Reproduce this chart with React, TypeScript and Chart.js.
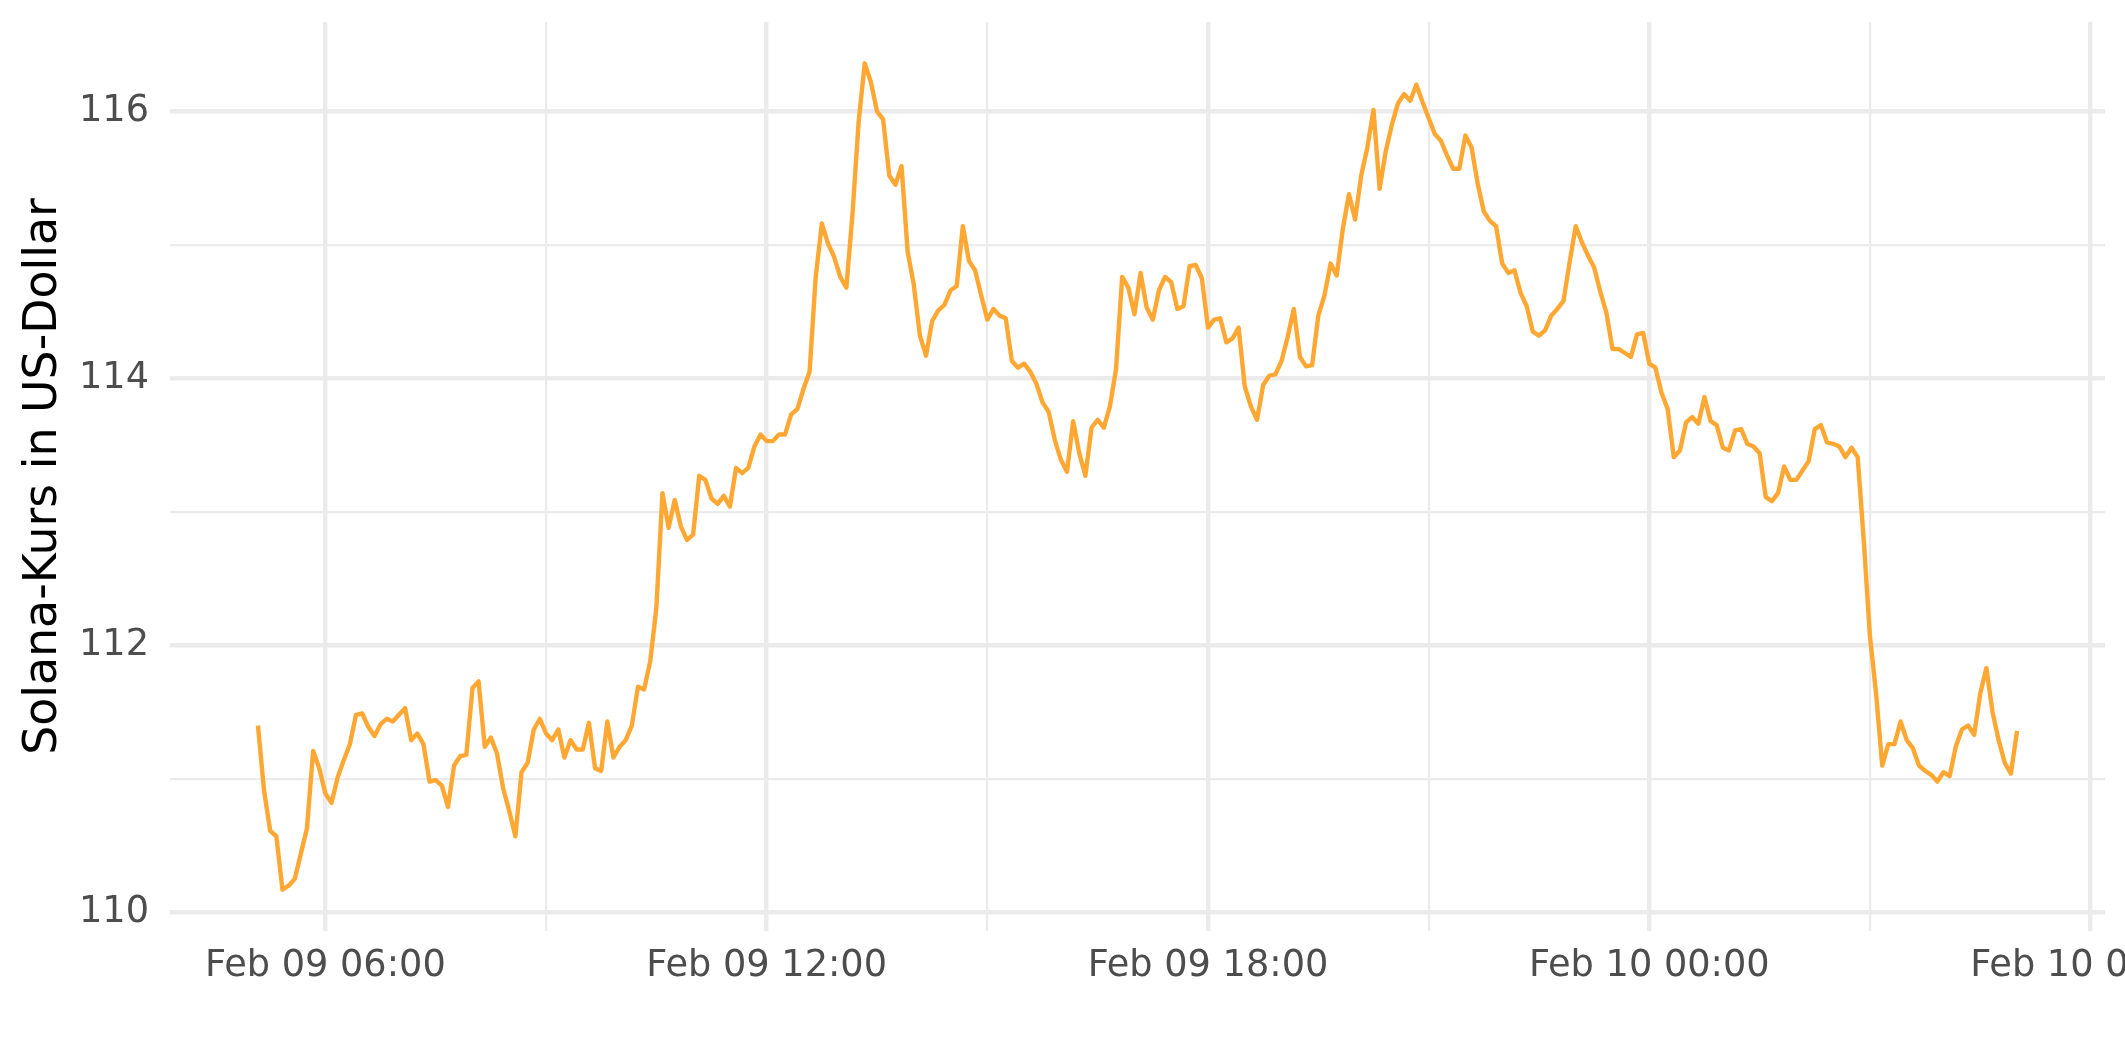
import { useEffect, useRef } from 'react';
import { Chart, registerables } from 'chart.js';

Chart.register(...registerables);

// Solana price, 5-minute samples from Feb 09 05:05 to Feb 10 05:00
const START_MINUTE = 305; // minutes after Feb 09 00:00
const STEP_MINUTES = 5;
const prices: number[] = [
  111.40, 110.91, 110.61, 110.57, 110.17, 110.20, 110.25, 110.44, 110.63, 111.21, 111.08,
  110.89, 110.82, 111.01, 111.14, 111.26, 111.48, 111.49, 111.39, 111.32, 111.41,
  111.45, 111.43, 111.48, 111.53, 111.29, 111.34, 111.26, 110.98, 110.99, 110.95,
  110.79, 111.10, 111.17, 111.18, 111.68, 111.73, 111.24, 111.31, 111.19, 110.93,
  110.76, 110.57, 111.05, 111.12, 111.37, 111.45, 111.34, 111.29, 111.37, 111.16,
  111.29, 111.22, 111.22, 111.42, 111.08, 111.06, 111.43, 111.16, 111.24, 111.29,
  111.40, 111.69, 111.67, 111.88, 112.28, 113.14, 112.88, 113.09, 112.89, 112.79,
  112.83, 113.27, 113.24, 113.10, 113.06, 113.12, 113.04, 113.33, 113.29, 113.33,
  113.49, 113.58, 113.53, 113.53, 113.58, 113.58, 113.73, 113.77, 113.92, 114.05,
  114.76, 115.16, 115.01, 114.91, 114.76, 114.68, 115.23, 115.92, 116.36, 116.22,
  116.00, 115.94, 115.52, 115.45, 115.59, 114.95, 114.70, 114.32, 114.17, 114.43,
  114.51, 114.55, 114.66, 114.69, 115.14, 114.88, 114.81, 114.62, 114.44, 114.52,
  114.47, 114.45, 114.13, 114.08, 114.11, 114.05, 113.96, 113.82, 113.75, 113.54,
  113.39, 113.30, 113.68, 113.44, 113.27, 113.63, 113.69, 113.63, 113.79, 114.07,
  114.76, 114.68, 114.48, 114.79, 114.53, 114.44, 114.66, 114.76, 114.72, 114.52,
  114.54, 114.84, 114.85, 114.75, 114.38, 114.44, 114.45, 114.27, 114.30, 114.38,
  113.94, 113.79, 113.69, 113.95, 114.02, 114.03, 114.13, 114.31, 114.52, 114.16,
  114.09, 114.10, 114.47, 114.62, 114.86, 114.77, 115.12, 115.38, 115.19, 115.52,
  115.73, 116.01, 115.42, 115.70, 115.90, 116.06, 116.13, 116.08, 116.20, 116.07,
  115.95, 115.83, 115.78, 115.67, 115.57, 115.57, 115.82, 115.73, 115.46, 115.25,
  115.18, 115.14, 114.86, 114.79, 114.81, 114.64, 114.54, 114.35, 114.32, 114.36,
  114.47, 114.52, 114.58, 114.87, 115.14, 115.02, 114.92, 114.83, 114.65, 114.49,
  114.22, 114.22, 114.19, 114.16, 114.33, 114.34, 114.11, 114.08, 113.89, 113.77,
  113.41, 113.46, 113.67, 113.71, 113.66, 113.86, 113.68, 113.65, 113.48, 113.46,
  113.61, 113.62, 113.51, 113.49, 113.44, 113.11, 113.08, 113.14, 113.34, 113.24,
  113.24, 113.31, 113.38, 113.62, 113.65, 113.52, 113.51, 113.49, 113.41, 113.48,
  113.41, 112.78, 112.07, 111.64, 111.10, 111.26, 111.26, 111.43, 111.29, 111.23,
  111.10, 111.06, 111.03, 110.98, 111.05, 111.02, 111.24, 111.37, 111.40, 111.33,
  111.64, 111.83, 111.50, 111.29, 111.12, 111.04, 111.36,
];

const xMajorTicks = [360, 720, 1080, 1440, 1800];
const xMajorLabels = ['Feb 09 06:00', 'Feb 09 12:00', 'Feb 09 18:00', 'Feb 10 00:00', 'Feb 10 06:00'];
const xMinorTicks = [540, 900, 1260, 1620];
const yMajorTicks = [110, 112, 114, 116];
const yMinorTicks = [111, 113, 115];

const Y_TITLE = 'Solana-Kurs in US-Dollar';
const LINE_COLOR = '#FFA733';
const GRID_COLOR = '#EBEBEB';
const FONT = 'DejaVu Sans';

export default function App() {
  const ref = useRef<HTMLCanvasElement | null>(null);

  useEffect(() => {
    if (!ref.current) return;
    const points = prices.map((p, i) => ({ x: START_MINUTE + i * STEP_MINUTES, y: p }));
    const xs = points.map((p) => p.x);
    const ys = points.map((p) => p.y);
    const xMin = Math.min(...xs), xMax = Math.max(...xs);
    const yMin = Math.min(...ys), yMax = Math.max(...ys);
    const xPad = 0.05 * (xMax - xMin);
    const yPad = 0.05 * (yMax - yMin);

    const chart = new Chart(ref.current, {
      type: 'line',
      data: {
        datasets: [
          {
            data: points,
            borderColor: LINE_COLOR,
            borderWidth: 4.4,
            pointRadius: 0,
            tension: 0,
            fill: false,
            borderJoinStyle: 'round',
          },
        ],
      },
      options: {
        responsive: false,
        animation: false,
        devicePixelRatio: 1,
        layout: { padding: { left: 0, right: 20, top: 22, bottom: 0 } },
        plugins: { legend: { display: false }, tooltip: { enabled: false } },
        scales: {
          x: {
            type: 'linear',
            min: xMin - xPad,
            max: xMax + xPad,
            afterBuildTicks: (s: any) => {
              s.ticks = [...xMajorTicks, ...xMinorTicks].sort((a, b) => a - b).map((v) => ({ value: v }));
            },
            afterFit: (s: any) => {
              s.height = 131;
              s.paddingLeft = 0;
              s.paddingRight = 0;
            },
            border: { display: false },
            grid: {
              color: GRID_COLOR,
              drawTicks: false,
              lineWidth: (ctx: any) => (xMajorTicks.includes(ctx.tick?.value) ? 4.4 : 2.2),
            },
            ticks: {
              autoSkip: false,
              maxRotation: 0,
              minRotation: 0,
              padding: 13,
              color: '#4D4D4D',
              font: { family: FONT, size: 36.7 },
              callback: (v: any) => {
                const i = xMajorTicks.indexOf(Number(v));
                return i >= 0 ? xMajorLabels[i] : '';
              },
            },
          },
          y: {
            type: 'linear',
            min: yMin - yPad,
            max: yMax + yPad,
            afterBuildTicks: (s: any) => {
              s.ticks = [...yMajorTicks, ...yMinorTicks].sort((a, b) => a - b).map((v) => ({ value: v }));
            },
            afterFit: (s: any) => {
              s.width = 170;
              s.paddingTop = 0;
              s.paddingBottom = 0;
            },
            border: { display: false },
            grid: {
              color: GRID_COLOR,
              drawTicks: false,
              lineWidth: (ctx: any) => (yMajorTicks.includes(ctx.tick?.value) ? 4.4 : 2.2),
            },
            title: {
              display: true,
              text: Y_TITLE,
              color: '#000000',
              font: { family: FONT, size: 45.8 },
              padding: { top: 17, bottom: 0 },
            },
            ticks: {
              padding: 21,
              color: '#4D4D4D',
              font: { family: FONT, size: 36.7 },
              callback: (v: any) => (yMajorTicks.includes(Number(v)) ? String(v) : ''),
            },
          },
        },
      },
    });
    return () => chart.destroy();
  }, []);

  return (
    <div style={{ position: 'fixed', left: 0, top: 0, width: 2125, height: 1062, background: '#FFFFFF' }}>
      <canvas ref={ref} width={2125} height={1062} style={{ width: 2125, height: 1062, display: 'block' }} />
    </div>
  );
}
